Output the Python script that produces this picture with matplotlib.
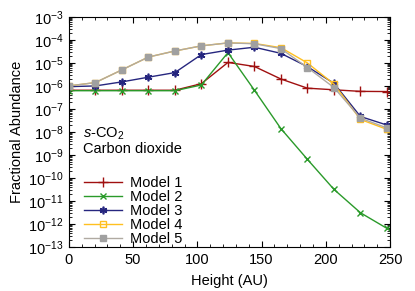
import matplotlib
matplotlib.use('Agg')
import matplotlib.pyplot as plt
from matplotlib.ticker import LogLocator, MultipleLocator, NullFormatter

plt.rcParams['font.family'] = ['Liberation Sans', 'DejaVu Sans']
plt.rcParams['mathtext.fontset'] = 'custom'
plt.rcParams['mathtext.rm'] = 'Liberation Sans'
plt.rcParams['mathtext.it'] = 'Liberation Sans:italic'

height = [0, 20.6, 41.3, 61.9, 82.5, 103.1, 123.8, 144.4, 165, 185.6, 206.3, 226.9, 247.5]

model1 = [6.5e-7, 6.5e-7, 6.5e-7, 6.5e-7, 6.5e-7, 1.25e-6, 1.05e-5, 7.0e-6,
          2.0e-6, 8.0e-7, 6.8e-7, 5.8e-7, 5.7e-7]
model2 = [6.2e-7, 6.2e-7, 6.2e-7, 6.2e-7, 6.2e-7, 1.1e-6, 2.8e-5, 6.5e-7,
          1.4e-8, 6.5e-10, 3.2e-11, 3.1e-12, 6.5e-13]
model3 = [9.3e-7, 1.0e-6, 1.5e-6, 2.4e-6, 3.8e-6, 2.3e-5, 3.6e-5, 4.8e-5,
          2.6e-5, 6.9e-6, 1.3e-6, 4.7e-8, 2.0e-8]
model4 = [1.0e-6, 1.4e-6, 5.0e-6, 1.8e-5, 3.3e-5, 5.5e-5, 7.4e-5, 7.0e-5,
          4.6e-5, 1.0e-5, 1.2e-6, 3.5e-8, 1.3e-8]
model5 = [1.0e-6, 1.4e-6, 5.0e-6, 1.8e-5, 3.3e-5, 5.5e-5, 7.4e-5, 6.8e-5,
          4.2e-5, 6.3e-6, 8.5e-7, 4.0e-8, 1.5e-8]

labels = ['Model 1', 'Model 2', 'Model 3', 'Model 4', 'Model 5']


def plotting():
    fig = plt.figure(figsize=(4.15, 2.91), dpi=100)
    ax = fig.add_axes([0.166, 0.151, 0.774, 0.791])

    ax.plot(height, model1, color='#a01010', marker='+', ms=6.5, mew=1.0,
            lw=1.0, label=labels[0])
    ax.plot(height, model2, color='#2a9a2a', marker='x', ms=5, mew=1.0,
            lw=1.0, label=labels[1])
    ax.plot(height, model3, color='#26267f', marker=(6, 2, 0), ms=5.5, mew=1.2,
            lw=1.0, label=labels[2])
    ax.plot(height, model4, color='#ffc020', marker='s', ms=5, mfc='none',
            mew=1.0, lw=1.0, label=labels[3])
    ax.plot(height, model5, color='#b0aaa2', marker='s', ms=4.5, mfc='#a0a0a0',
            mec='#a0a0a0', lw=1.0, label=labels[4])

    ax.set_yscale('log')
    ax.set_xlim(0, 250)
    ax.set_ylim(1e-13, 1e-3)
    ax.xaxis.set_major_locator(MultipleLocator(50))
    ax.xaxis.set_minor_locator(MultipleLocator(10))
    ax.yaxis.set_major_locator(LogLocator(base=10, numticks=20))
    ax.yaxis.set_minor_locator(LogLocator(base=10, subs=range(2, 10), numticks=20))
    ax.yaxis.set_minor_formatter(NullFormatter())
    ax.tick_params(which='both', direction='in', top=True, right=True,
                   labelsize=10.5, pad=4)
    ax.tick_params(which='major', length=4, width=0.8)
    ax.tick_params(which='minor', length=2, width=0.6)

    ax.set_xlabel('Height (AU)', fontsize=10.5, labelpad=5)
    ax.set_ylabel('Fractional Abundance', fontsize=10.5, labelpad=3)

    ax.text(0.045, 0.49, r'$\mathit{s}$-CO$_2$', transform=ax.transAxes,
            fontsize=10.5, va='center')
    ax.text(0.045, 0.425, 'Carbon dioxide', transform=ax.transAxes,
            fontsize=10.5, va='center')

    ax.legend(loc='lower left', bbox_to_anchor=(0.01, -0.045), frameon=False,
              fontsize=10.5, handlelength=2.6, handletextpad=0.55,
              labelspacing=0.0, borderpad=0.3)

    fig.savefig('out.png', dpi=100)


if __name__ == '__main__':
    plotting()
